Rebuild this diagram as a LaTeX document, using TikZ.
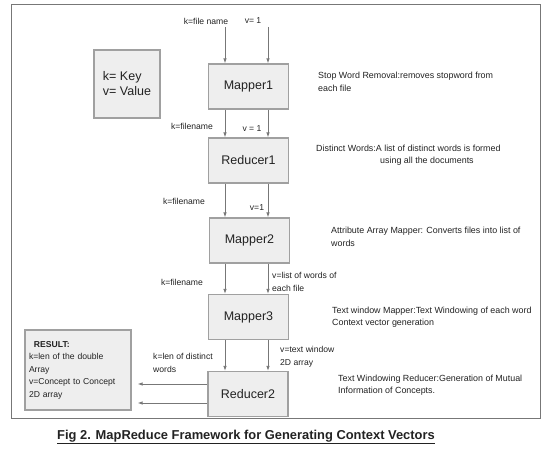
\documentclass[tikz,border=0pt]{standalone}
\usepackage{fontspec}
\setmainfont{Liberation Sans}
\usepackage{tikz}
\usetikzlibrary{arrows.meta,positioning}
\definecolor{boxfill}{HTML}{EEEEEE}
\definecolor{boxline}{HTML}{A0A0A0}
\definecolor{arrline}{HTML}{777777}
\definecolor{txt}{HTML}{222222}

\begin{document}
\begin{tikzpicture}[x=1pt,y=-1pt,
   every node/.style={text=txt,inner sep=0pt},
   job/.style={draw=boxline,fill=boxfill,line width=1.2pt,minimum width=80pt,
     minimum height=45pt,font=\fontsize{12.5}{15}\selectfont},
   lab/.style={font=\fontsize{8.6}{12.5}\selectfont,align=left},
   note/.style={lab,anchor=west},
   rnote/.style={note,font=\fontsize{8.9}{12.5}\selectfont},
   arr/.style={draw=arrline,line width=0.8pt,-{Latex[length=5pt,width=3.5pt]}}]
\useasboundingbox (0,0) rectangle (550,449);
\draw[arrline,line width=1pt] (11,5) rectangle (540,419);

\node[job] (map1) at (248.5,86.5) {Mapper1};
\node[job] (red1) at (248.5,160.5) {Reducer1};
\node[job] (map2) at (249.5,240.5) {Mapper2};
\node[job] (map3) at (248.5,317) {Mapper3};
\node[job] (red2) at (248,394) {Reducer2};

\node[job,minimum width=66pt,minimum height=68pt,align=left] (key) at (127,84)
   {k= Key\\v= Value};
\node[job,minimum width=106pt,minimum height=80pt,lab,anchor=center,text width=98pt]
   (result) at (78,370)
   {\hspace*{5pt}\textbf{RESULT:}\\k=len of the double\\Array\\v=Concept to Concept\\2D array};

\coordinate (inL) at (225,27);
\coordinate (inR) at (268,27);
\coordinate (outA) at ([yshift=10pt]red2.west);
\coordinate (outB) at ([yshift=-9pt]red2.west);
\node[lab] (kin) at (206,21) {k=file name};
\node[lab] (vin) at (253,21) {v= 1};

\draw[arr] (inL) -- (inL |- map1.north);
\draw[arr] (inR) -- (inR |- map1.north);
\draw[arr] (map1.south -| inL) -- (red1.north -| inL);
\draw[arr] (map1.south -| inR) -- (red1.north -| inR);
\draw[arr] (red1.south -| inL) -- (map2.north -| inL);
\draw[arr] (red1.south -| inR) -- (map2.north -| inR);
\draw[arr] (map2.south -| inL) -- (map3.north -| inL);
\draw[arr] (map2.south -| inR) -- (map3.north -| inR);
\draw[arr] (map3.south -| inL) -- (red2.north -| inL);
\draw[arr] (map3.south -| inR) -- (red2.north -| inR);
\draw[arr] (outA) -- ([xshift=6pt]result.east |- outA);
\draw[arr] (outB) -- ([xshift=6pt]result.east |- outB);

\node[lab] (k1) at (192,126) {k=filename};
\node[lab] (v1) at (252,129) {v = 1};
\node[lab] (k2) at (184,201) {k=filename};
\node[lab] (v2) at (257,208) {v=1};
\node[lab] (k3) at (182,282) {k=filename};
\node[note] (v3) at (272,282) {v=list of words of\\each file};
\node[note] (k4) at (153,363) {k=len of distinct\\words};
\node[note] (v4) at (280,357) {v=text window\\2D array};

\node[rnote] (n1) at (318,82) {Stop Word Removal:removes stopword from\\each file};
\node[rnote] (n2) at (316,155) {Distinct Words:A list of distinct words is formed\\\hspace*{64pt}using all the documents};
\node[rnote] (n3) at (331,237) {Attribute Array Mapper: Converts files into list of\\words};
\node[rnote] (n4) at (332,317) {Text window Mapper:Text Windowing of each word\\Context vector generation};
\node[rnote] (n5) at (338,385) {Text Windowing Reducer:Generation of Mutual\\Information of Concepts.};

\node[font=\fontsize{12.9}{15}\selectfont\bfseries] (cap) at (246,437)
   {\underline{Fig 2. MapReduce Framework for Generating Context Vectors}};
\end{tikzpicture}
\end{document}
